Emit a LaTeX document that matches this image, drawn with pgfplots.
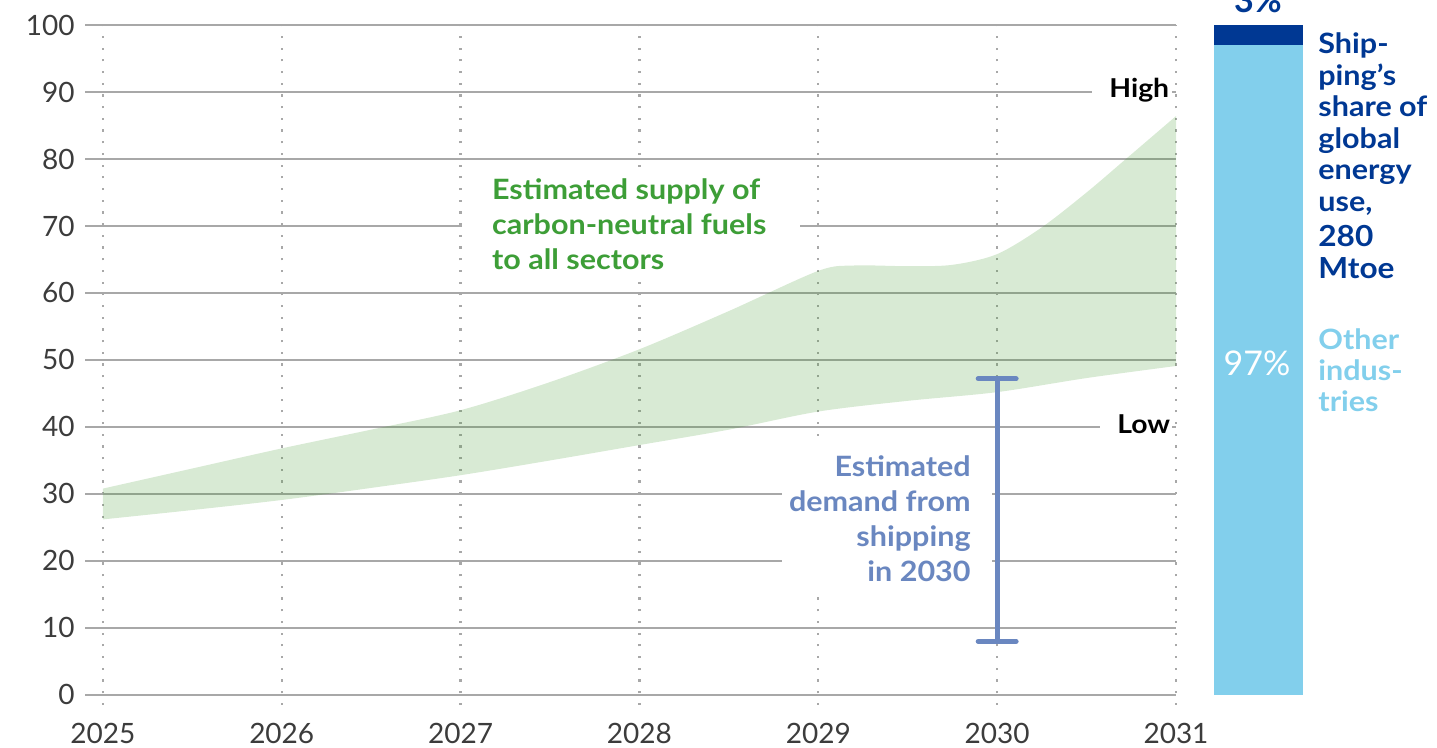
\documentclass[border=0pt]{standalone}
\usepackage{pgfplots}
\pgfplotsset{compat=1.18}
\usepgfplotslibrary{fillbetween}
\usepackage{fontspec}
\setmainfont{Lato}
\newfontfamily\lab{Lato}[FakeStretch=1.09]
\definecolor{tickc}{RGB}{60,60,60}
\definecolor{gridc}{RGB}{168,168,168}
\definecolor{greent}{RGB}{61,158,55}
\definecolor{bandc}{RGB}{60,150,40}
\definecolor{errc}{RGB}{106,135,192}
\definecolor{dblue}{RGB}{0,56,147}
\definecolor{lblue}{RGB}{130,207,236}
\begin{document}
\begin{tikzpicture}
\begin{axis}[
  scale only axis,
  width=545.5pt, height=340pt,
  at={(42.5pt,21.5pt)}, anchor=south west,
  xmin=2024.9, xmax=2031, ymin=-1.5, ymax=100,
  xtick={2025,2026,2027,2028,2029,2030,2031},
  xticklabels={2025,2026,2027,2028,2029,2030,2031},
  ytick={0,10,20,30,40,50,60,70,80,90,100},
  yticklabels={0,10,20,30,40,50,60,70,80,90,100},
  axis line style={draw=none},
  tick style={draw=none},
  xmajorgrids, ymajorgrids,
  x grid style={color=gridc, line width=1.1pt, line cap=butt, dash pattern=on 1.1pt off 4.75pt},
  y grid style={color=gridc, line width=0.75pt},
  xticklabel style={anchor=north, inner sep=0pt, yshift=-9pt, font=\fontsize{14}{16}\selectfont, text=tickc},
  yticklabel style={anchor=east, inner sep=0pt, xshift=-5pt, font=\fontsize{14}{16}\selectfont, text=tickc},
  clip=false,
]
\addplot[name path=up, draw=none, smooth] coordinates {
 (2025,30.8) (2025.5,33.8) (2026,36.8) (2026.5,39.6) (2027,42.5) (2027.5,46.7)
 (2028,51.6) (2028.5,57.3) (2029,63.3) (2029.2,64.1)
 (2029.5,64.0) (2029.75,64.2) (2030,65.8) (2030.25,69.8) (2030.5,75.0) (2030.72,80.0) (2031,86.4)};
\addplot[name path=lo, draw=none, smooth] coordinates {
 (2025,26.2) (2025.5,27.6) (2026,29.1) (2026.5,30.9) (2027,32.8) (2027.5,35.0)
 (2028,37.3) (2028.5,39.6) (2029,42.3) (2029.5,43.9) (2030,45.2) (2030.5,47.3) (2031,49.1)};
\addplot[fill=bandc, fill opacity=0.2, draw=none] fill between[of=up and lo];
\addplot[errc, line width=2.5pt, line cap=round] coordinates {(2030,8) (2030,47.2)};
\addplot[errc, line width=2.5pt, line cap=round] coordinates {(2029.894,47.2) (2030.106,47.2)};
\addplot[errc, line width=2.5pt, line cap=round] coordinates {(2029.894,8) (2030.106,8)};
\end{axis}
\begin{axis}[
  scale only axis,
  width=44.5pt, height=340pt,
  at={(607pt,21.5pt)}, anchor=south west,
  xmin=0, xmax=1, ymin=-1.5, ymax=100,
  hide axis, clip=false,
  ybar stacked, bar width=44.5pt, bar shift=0pt,
]
\addplot[fill=lblue, draw=none] coordinates {(0.5,97)};
\addplot[fill=dblue, draw=none] coordinates {(0.5,3)};
\end{axis}
% white boxes behind labels
\fill[white] (231pt,249pt) rectangle (400pt,290pt);
\fill[white] (231pt,233pt) rectangle (350pt,249pt);
\fill[white] (391pt,75.5pt) rectangle (496pt,154pt);
\fill[white] (546pt,319pt) rectangle (586pt,338pt);
\fill[white] (550pt,154pt) rectangle (586pt,169pt);
% green label
\begin{scope}[every node/.style={inner sep=0pt, font=\lab\fontsize{14}{16}\selectfont\bfseries, text=greent}]
\node[anchor=base west] at (245.85pt,274pt) {Estimated supply of};
\node[anchor=base west] at (245.85pt,256.5pt) {carbon-neutral fuels};
\node[anchor=base west] at (245.85pt,239.35pt) {to all sectors};
\end{scope}
% blue label
\begin{scope}[every node/.style={inner sep=0pt, font=\lab\fontsize{14}{16}\selectfont\bfseries, text=errc}]
\node[anchor=base east] at (485.5pt,135.65pt) {Estimated};
\node[anchor=base east] at (485.5pt,118.15pt) {demand from};
\node[anchor=base east] at (485.5pt,100.65pt) {shipping};
\node[anchor=base east] at (485.5pt,83pt) {in 2030};
\end{scope}
% High / Low
\node[anchor=base west, inner sep=0pt, font=\lab\fontsize{13}{15}\selectfont\bfseries] at (554.5pt,325pt) {High};
\node[anchor=base west, inner sep=0pt, font=\lab\fontsize{13}{15}\selectfont\bfseries] at (558.5pt,157pt) {Low};
% bar labels
\node[anchor=base, inner sep=0pt, font=\fontsize{17}{19}\selectfont\bfseries, text=dblue] at (629pt,367.75pt) {3\%};
\node[anchor=base, inner sep=0pt, font=\fontsize{17}{19}\selectfont, text=white] at (628.5pt,186pt) {97\%};
% right text
\begin{scope}[every node/.style={inner sep=0pt, anchor=base west, font=\lab\fontsize{14}{16}\selectfont\bfseries, text=dblue}]
\node at (659pt,347pt) {Ship-};
\node at (659pt,331.25pt) {ping’s};
\node at (659pt,315.5pt) {share of};
\node at (659pt,299.75pt) {global};
\node at (659pt,284pt) {energy};
\node at (659pt,268.25pt) {use,};
\node at (659pt,250.5pt) {\fontsize{14.5}{16}\selectfont 280};
\node at (659pt,234.5pt) {\fontsize{14.5}{16}\selectfont Mtoe};
\end{scope}
\begin{scope}[every node/.style={inner sep=0pt, anchor=base west, font=\lab\fontsize{14}{16}\selectfont\bfseries, text=lblue}]
\node at (659pt,199pt) {Other};
\node at (659pt,183.5pt) {indus-};
\node at (659pt,168pt) {tries};
\end{scope}
\pgfresetboundingbox
\useasboundingbox (0,0) rectangle (718.5pt,374pt);
\end{tikzpicture}
\end{document}
